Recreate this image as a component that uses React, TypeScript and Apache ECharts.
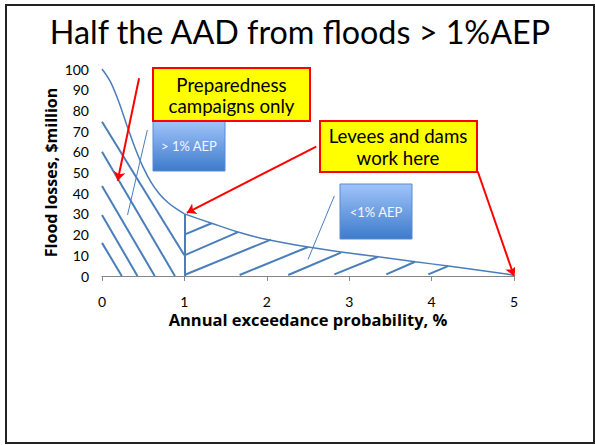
import { useEffect, useRef } from "react";
import * as echarts from "echarts";

const titleText = "Half the AAD from floods > 1%AEP";
const xName = "Annual exceedance probability, %";
const yName = "Flood losses, $million";

const curveLeft: number[][] = [
  [0, 100], [0.1, 94], [0.2, 84.5], [0.3, 73], [0.4, 62], [0.5, 52.5],
  [0.6, 45], [0.7, 39.5], [0.8, 35.5], [0.9, 32.5], [1, 30],
];
const curveRight: number[][] = [
  [1, 30], [1.33, 25.5], [1.65, 21.3], [2, 17.6], [2.5, 14], [3, 11.1],
  [3.35, 9.3], [3.8, 6.9], [4.2, 4.8], [5, 0.4],
];

const hatchLeft: number[][][] = [
  [[0, 74.5], [1, 10]],
  [[0, 60], [0.885, 0]],
  [[0, 43.5], [0.64, 0]],
  [[0, 29.5], [0.43, 0]],
  [[0, 16], [0.24, 0]],
];
const divider: number[][][] = [[[1, 0], [1, 30]]];
const hatchRight: number[][][] = [
  [[1, 20], [1.33, 25.5]],
  [[1, 10], [1.65, 21.2]],
  [[1, 0.5], [2.05, 17.6]],
  [[1.67, 0.5], [2.5, 14]],
  [[2.26, 0.5], [2.9, 11.3]],
  [[2.82, 0.8], [3.35, 9.3]],
  [[3.45, 0.8], [3.8, 6.9]],
  [[3.96, 0.8], [4.2, 4.8]],
];
const calloutLines: number[][][] = [
  [[0.31, 29.5], [0.55, 70.5]],
  [[2.5, 8], [2.82, 38.7]],
];
const redArrows: number[][][] = [
  [[0.45, 95.5], [0.19, 46]],
  [[2.6, 62.5], [1.03, 30.5]],
  [[4.56, 50.5], [5.0, 0]],
];

const boxPrep = "Preparedness\ncampaigns only";
const boxLevee = "Levees and dams\nwork here";
const boxAbove = "> 1% AEP";
const boxBelow = "<1% AEP";

const FONT = "Lato, 'Open Sans', sans-serif";
const NAME_FONT = "'Open Sans', Lato, sans-serif";
const BLUE = "#4a7ebb";

export default function App() {
  const ref = useRef<HTMLDivElement>(null);
  useEffect(() => {
    const chart = echarts.init(ref.current!, undefined, { renderer: "svg" });
    const blueGrad = new echarts.graphic.LinearGradient(0, 0, 0, 1, [
      { offset: 0, color: "#a0c4fa" },
      { offset: 1, color: "#3d7bcb" },
    ]);
    const blueGrad2 = new echarts.graphic.LinearGradient(0, 0, 0, 1, [
      { offset: 0, color: "#a0c4fa" },
      { offset: 1, color: "#3d7bcb" },
    ]);
    chart.setOption({
      animation: false,
      backgroundColor: "#ffffff",
      textStyle: { fontFamily: FONT },
      grid: { left: 102, top: 69, width: 412, height: 207 },
      xAxis: {
        type: "value",
        min: 0,
        max: 5,
        interval: 1,
        name: xName,
        nameLocation: "middle",
        nameGap: 35,
        nameMoveOverlap: false,
        nameTextStyle: { fontFamily: NAME_FONT, fontSize: 16.5, fontWeight: "bold", color: "#000" },
        axisLine: { show: true, lineStyle: { color: "#868686", width: 1 } },
        axisTick: { show: true, length: 5, lineStyle: { color: "#868686" } },
        axisLabel: { margin: 17, fontFamily: FONT, fontSize: 14, lineHeight: 16, color: "#000" },
        splitLine: { show: false },
      },
      yAxis: {
        type: "value",
        min: 0,
        max: 100,
        interval: 10,
        name: yName,
        nameLocation: "middle",
        nameGap: 43,
        nameMoveOverlap: false,
        nameTextStyle: { fontFamily: NAME_FONT, fontSize: 16, fontWeight: "bold", color: "#000" },
        axisLine: { show: false },
        axisTick: { show: false },
        axisLabel: { margin: 13, fontFamily: FONT, fontSize: 14, color: "#000" },
        splitLine: { show: false },
      },
      series: [
        {
          type: "line",
          data: curveLeft,
          smooth: 0.35,
          showSymbol: false,
          lineStyle: { color: BLUE, width: 1.5 },
        },
        {
          type: "line",
          data: curveRight,
          smooth: 0.35,
          showSymbol: false,
          lineStyle: { color: BLUE, width: 1.5 },
        },
        {
          type: "lines",
          coordinateSystem: "cartesian2d",
          data: [...hatchLeft, ...divider, ...hatchRight].map((c) => ({ coords: c })),
          lineStyle: { color: BLUE, width: 2, opacity: 1 },
          symbol: ["none", "none"],
        },
        {
          type: "lines",
          coordinateSystem: "cartesian2d",
          data: calloutLines.map((c) => ({ coords: c })),
          lineStyle: { color: BLUE, width: 1, opacity: 1 },
          symbol: ["none", "none"],
        },
        {
          type: "lines",
          coordinateSystem: "cartesian2d",
          data: redArrows.map((c) => ({ coords: c })),
          lineStyle: { color: "#ff0000", width: 2, opacity: 1 },
          symbol: ["none", "arrow"],
          symbolSize: 9,
          z: 5,
        },
      ],
      graphic: [
        {
          type: "rect",
          shape: { x: 6, y: 5, width: 588, height: 438 },
          style: { fill: "none", stroke: "#222", lineWidth: 2 },
          silent: true,
        },
        {
          type: "text",
          x: 300,
          y: 31.5,
          style: {
            text: titleText,
            fontFamily: FONT,
            fontSize: 32.3,
            fill: "#000",
            align: "center",
            verticalAlign: "middle",
          },
        },
        {
          type: "rect",
          shape: { x: 153, y: 121, width: 72, height: 50 },
          style: { fill: blueGrad, stroke: "#5b8ad0", lineWidth: 1 },
          z: 10,
        },
        {
          type: "text",
          x: 189,
          y: 146,
          style: {
            text: boxAbove,
            fontFamily: FONT,
            fontSize: 13,
            fill: "#f4f7ff",
            align: "center",
            verticalAlign: "middle",
          },
          z: 11,
        },
        {
          type: "rect",
          shape: { x: 340, y: 184, width: 72, height: 55 },
          style: { fill: blueGrad2, stroke: "#5b8ad0", lineWidth: 1 },
          z: 10,
        },
        {
          type: "text",
          x: 376,
          y: 211.5,
          style: {
            text: boxBelow,
            fontFamily: FONT,
            fontSize: 13,
            fill: "#f4f7ff",
            align: "center",
            verticalAlign: "middle",
          },
          z: 11,
        },
        {
          type: "rect",
          shape: { x: 153, y: 68, width: 157, height: 53 },
          style: { fill: "#ffff00", stroke: "#ff0000", lineWidth: 2 },
          z: 12,
        },
        {
          type: "text",
          x: 231.5,
          y: 95.5,
          style: {
            text: boxPrep,
            fontFamily: FONT,
            fontSize: 18.7,
            lineHeight: 21.5,
            fill: "#000",
            align: "center",
            verticalAlign: "middle",
          },
          z: 13,
        },
        {
          type: "rect",
          shape: { x: 320, y: 121, width: 157, height: 51 },
          style: { fill: "#ffff00", stroke: "#ff0000", lineWidth: 2 },
          z: 12,
        },
        {
          type: "text",
          x: 398,
          y: 147,
          style: {
            text: boxLevee,
            fontFamily: FONT,
            fontSize: 18.7,
            lineHeight: 22,
            fill: "#000",
            align: "center",
            verticalAlign: "middle",
          },
          z: 13,
        },
      ],
    });
    return () => chart.dispose();
  }, []);
  return (
    <div
      ref={ref}
      style={{ position: "fixed", left: 0, top: 0, width: 595, height: 445, background: "#fff" }}
    />
  );
}
